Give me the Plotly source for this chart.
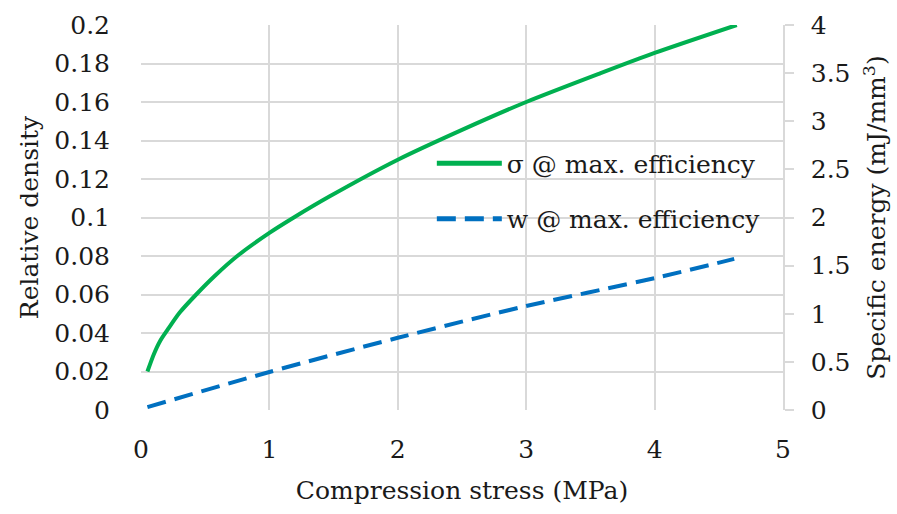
import plotly.graph_objects as go

# Data
stress_sigma = [0.05, 0.1, 0.15, 0.21, 0.3, 0.43, 0.58, 0.75, 1.0, 1.19, 1.47, 2.0, 2.5, 3.0, 3.58, 4.0, 4.64]
rel_density = [0.020, 0.029, 0.036, 0.042, 0.0505, 0.060, 0.070, 0.080, 0.092, 0.100, 0.111, 0.130, 0.1455, 0.160, 0.175, 0.1855, 0.200]

stress_w = [0.05, 1.0, 2.0, 3.0, 4.0, 4.62]
spec_energy = [0.03, 0.395, 0.75, 1.08, 1.37, 1.57]

left_ticks = [0, 0.02, 0.04, 0.06, 0.08, 0.1, 0.12, 0.14, 0.16, 0.18, 0.2]
left_labels = ["0", "0.02", "0.04", "0.06", "0.08", "0.1", "0.12", "0.14", "0.16", "0.18", "0.2"]
right_ticks = [0, 0.5, 1, 1.5, 2, 2.5, 3, 3.5, 4]
right_labels = ["0", "0.5", "1", "1.5", "2", "2.5", "3", "3.5", "4"]
x_ticks = [0, 1, 2, 3, 4, 5]

FONT = "DejaVu Serif"
GRID = "#d9d9d9"
FS = 25

fig = go.Figure()
fig.add_trace(go.Scatter(
    x=stress_sigma, y=rel_density, mode="lines", name="σ @ max. efficiency",
    legendgroup="a",
    line=dict(color="#00b050", width=4, shape="spline", smoothing=0.7), yaxis="y"))
fig.add_trace(go.Scatter(
    x=stress_w, y=spec_energy, mode="lines", name="w @ max. efficiency",
    legendgroup="b",
    line=dict(color="#0070c0", width=4, dash="19px,9px", shape="spline", smoothing=0.8), yaxis="y2"))

fig.update_layout(
    width=897, height=514,
    margin=dict(l=141, r=114, t=25, b=104),
    paper_bgcolor="white", plot_bgcolor="white",
    font=dict(family=FONT, size=FS, color="#1a1a1a"),
    showlegend=True,
    legend=dict(x=0.453, y=0.569, xanchor="left", yanchor="middle",
                bgcolor="rgba(0,0,0,0)", font=dict(size=FS, family=FONT),
                itemwidth=65, tracegroupgap=20, itemsizing="constant"),
    xaxis=dict(range=[0, 5], tickvals=x_ticks, showgrid=True, gridcolor=GRID, gridwidth=1.5,
               zeroline=False, showline=False, ticks="", ticklabelstandoff=22,
               title=dict(text="Compression stress (MPa)", standoff=18, font=dict(size=FS)),
               tickfont=dict(size=FS)),
    yaxis=dict(range=[0, 0.2], tickvals=left_ticks, ticktext=left_labels, showgrid=True,
               gridcolor=GRID, gridwidth=1.5, zeroline=False, showline=False, ticks="",
               ticklabelstandoff=30, tickfont=dict(size=FS),
               title=dict(text="Relative density", standoff=8, font=dict(size=FS))),
    yaxis2=dict(range=[0, 4], tickvals=right_ticks, ticktext=right_labels, overlaying="y",
                side="right", showgrid=False, zeroline=False, showline=True, linecolor=GRID,
                linewidth=1.5, ticks="outside", ticklen=9, tickcolor=GRID, tickwidth=1.5,
                ticklabelstandoff=12, tickfont=dict(size=FS),
                title=dict(text="Specific energy (mJ/mm<sup>3</sup>)", standoff=18, font=dict(size=FS))),
)

fig.write_html("out.html")
